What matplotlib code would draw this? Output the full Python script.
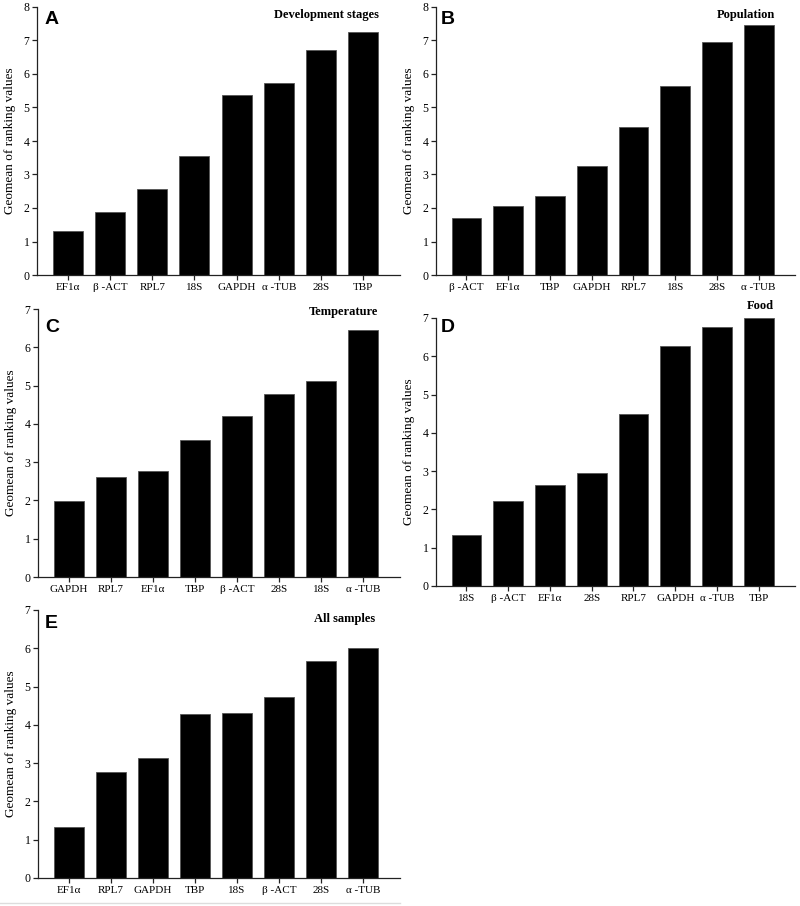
import numpy as np
import matplotlib
matplotlib.use('Agg')
import matplotlib.pyplot as plt
from matplotlib.lines import Line2D

# geomean of ranking values per panel
genes_a = ['EF1α', 'β -ACT', 'RPL7', '18S', 'GAPDH', 'α -TUB', '28S', 'TBP']
vals_a = [1.32, 1.87, 2.58, 3.56, 5.38, 5.74, 6.73, 7.24]

genes_b = ['β -ACT', 'EF1α', 'TBP', 'GAPDH', 'RPL7', '18S', '28S', 'α -TUB']
vals_b = [1.69, 2.07, 2.35, 3.26, 4.41, 5.64, 6.96, 7.45]

genes_c = ['GAPDH', 'RPL7', 'EF1α', 'TBP', 'β -ACT', '28S', '18S', 'α -TUB']
vals_c = [1.98, 2.62, 2.78, 3.57, 4.21, 4.77, 5.13, 6.46]

genes_d = ['18S', 'β -ACT', 'EF1α', '28S', 'RPL7', 'GAPDH', 'α -TUB', 'TBP']
vals_d = [1.33, 2.22, 2.64, 2.95, 4.49, 6.26, 6.76, 7.00]

genes_e = ['EF1α', 'RPL7', 'GAPDH', 'TBP', '18S', 'β -ACT', '28S', 'α -TUB']
vals_e = [1.32, 2.78, 3.13, 4.28, 4.31, 4.74, 5.67, 6.01]

W, H = 800, 906
SERIF = ['Liberation Serif', 'DejaVu Serif']

fig = plt.figure(figsize=(W / 100, H / 100), dpi=100)


def px_axes(left, top, right, bottom):
    # pixel box -> figure fraction
    return fig.add_axes([left / W, 1 - bottom / H, (right - left) / W, (bottom - top) / H])


def panel(box, genes, vals, ymax, letter, title, letter_xy, title_xy, title_ha='right'):
    ax = px_axes(*box)
    x = np.arange(len(genes))
    ax.bar(x, vals, width=0.71, color='black', edgecolor='#555555', linewidth=0.6)
    ax.set_xlim(-0.73, 7.87)
    ax.set_ylim(0, ymax)
    ax.set_yticks(range(ymax + 1))
    ax.set_xticks(x)
    ax.set_xticklabels(genes, fontfamily=SERIF, fontsize=8)
    for lab in ax.get_yticklabels():
        lab.set_fontfamily(SERIF)
        lab.set_fontsize(8.5)
    for s in ['top', 'right']:
        ax.spines[s].set_visible(False)
    for s in ['left', 'bottom']:
        ax.spines[s].set_linewidth(0.9)
        ax.spines[s].set_color('#222222')
    ax.tick_params(direction='out', length=3.5, width=0.9, color='#222222', pad=2)
    ax.set_ylabel('Geomean of ranking values', fontfamily=SERIF, fontsize=9.5, labelpad=5)
    fig.text(letter_xy[0] / W, 1 - letter_xy[1] / H, letter, fontfamily='Liberation Sans',
             fontweight='bold', fontsize=14, va='center', ha='left')
    fig.text(title_xy[0] / W, 1 - title_xy[1] / H, title, fontfamily=SERIF,
             fontweight='bold', fontsize=9, va='center', ha=title_ha)
    return ax


panel((37, 7, 400, 275), genes_a, vals_a, 8, 'A', 'Development stages', (45, 20), (379, 15))
panel((436, 7, 795, 275), genes_b, vals_b, 8, 'B', 'Population', (441, 19), (775, 15))
panel((38, 309, 400, 577), genes_c, vals_c, 7, 'C', 'Temperature', (45, 327), (378, 312))
panel((436, 318, 795, 586), genes_d, vals_d, 7, 'D', 'Food', (441, 327), (760, 306), 'center')
panel((38, 610, 400, 878), genes_e, vals_e, 7, 'E', 'All samples', (45, 623), (375, 619))

# faint rule under the last panel
fig.add_artist(Line2D([0, 400 / W], [1 - 903 / H] * 2, transform=fig.transFigure,
                      color='#dddddd', linewidth=1))

fig.savefig('out.png', dpi=100)
